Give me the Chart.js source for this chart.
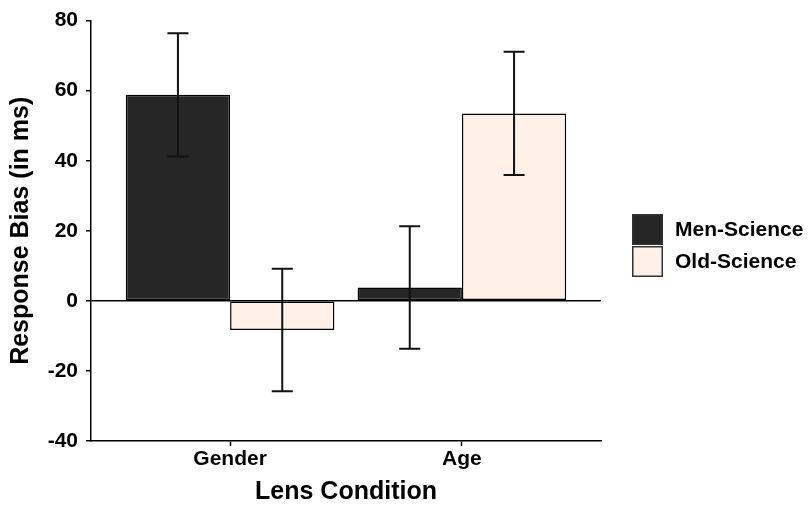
<!DOCTYPE html>
<html>
<head>
<meta charset="utf-8">
<script src="https://cdn.jsdelivr.net/npm/chart.js@4.4.1/dist/chart.umd.min.js"></script>
<style>
  body { margin: 0; background: #fff; }
  #wrap { width: 811px; height: 506px; position: relative; }
</style>
</head>
<body>
<div id="wrap"><canvas id="biasChart"></canvas></div>
<script>
/*
    response bias by lens condition
    grouped bars with standard error whiskers
*/

// categories on the x axis
const categories = ['Gender', 'Age'];
const seriesNames = ['Men-Science', 'Old-Science'];

// mean response bias (ms)
const menScience = [58.8, 3.8];
const oldScience = [-8.3, 53.5];

// standard error of each mean
const menScienceSE = [17.6, 17.5];
const oldScienceSE = [17.5, 17.6];

// y axis ticks
const yTicks = [-40, -20, 0, 20, 40, 60, 80];

const FONT = '"Liberation Sans", Arial, Helvetica, sans-serif';
Chart.defaults.font.family = FONT;
Chart.defaults.color = '#000';

function toPoints(values) {
    return values.map((v, i) => ({ x: i + 1, y: v }));
}

// whiskers drawn from the dataset's se array
const errorBars = {
    id: 'errorBars',
    afterDatasetsDraw(chart) {
        const ctx = chart.ctx;
        const y = chart.scales.y;
        ctx.save();
        ctx.strokeStyle = '#111';
        ctx.lineWidth = 2;
        chart.data.datasets.forEach((ds, di) => {
            const meta = chart.getDatasetMeta(di);
            meta.data.forEach((bar, i) => {
                const v = ds.data[i].y;
                const top = y.getPixelForValue(v + ds.se[i]);
                const bot = y.getPixelForValue(v - ds.se[i]);
                const cap = 10.5;
                ctx.beginPath();
                ctx.moveTo(bar.x, top);
                ctx.lineTo(bar.x, bot);
                ctx.moveTo(bar.x - cap, top);
                ctx.lineTo(bar.x + cap, top);
                ctx.moveTo(bar.x - cap, bot);
                ctx.lineTo(bar.x + cap, bot);
                ctx.stroke();
            });
        });
        ctx.restore();
    }
};

// legend to the right, boxes stacked like ggplot's key
const sideLegend = {
    id: 'sideLegend',
    afterDraw(chart) {
        const ctx = chart.ctx;
        const x0 = 632, y0 = 214, size = 31;
        ctx.save();
        chart.data.datasets.forEach((ds, i) => {
            const by = y0 + i * (size + 1);
            ctx.fillStyle = ds.backgroundColor;
            ctx.fillRect(x0, by, size, size);
            ctx.strokeStyle = '#333';
            ctx.lineWidth = 1.5;
            ctx.strokeRect(x0 + 0.75, by + 0.75, size - 1.5, size - 1.5);
            ctx.fillStyle = '#000';
            ctx.font = 'bold 21px ' + FONT;
            ctx.textBaseline = 'middle';
            ctx.fillText(ds.label, 675, by + size / 2 + 1);
        });
        ctx.restore();
    }
};

new Chart('biasChart', {
    type: 'bar',
    data: {
        datasets: [
            {
                label: seriesNames[0],
                data: toPoints(menScience),
                se: menScienceSE,
                backgroundColor: '#262626',
                borderColor: '#000',
                borderWidth: 1.5,
                borderSkipped: false,
                categoryPercentage: 0.9,
                barPercentage: 1.0
            },
            {
                label: seriesNames[1],
                data: toPoints(oldScience),
                se: oldScienceSE,
                backgroundColor: '#FEF0E7',
                borderColor: '#000',
                borderWidth: 1.5,
                borderSkipped: false,
                categoryPercentage: 0.9,
                barPercentage: 1.0
            }
        ]
    },
    options: {
        responsive: true,
        maintainAspectRatio: false,
        animation: false,
        layout: { padding: { top: 11, right: 210, bottom: 0, left: 0 } },
        plugins: {
            legend: { display: false },
            tooltip: { enabled: false }
        },
        scales: {
            x: {
                type: 'linear',
                min: 0.4,
                max: 2.6,
                offset: false,
                afterBuildTicks: (scale) => {
                    scale.ticks = categories.map((c, i) => ({ value: i + 1 }));
                },
                afterFit: (scale) => { scale.height = 65; },
                ticks: {
                    font: { size: 21, weight: 'bold' },
                    padding: 1,
                    maxRotation: 0,
                    callback: (v) => categories[v - 1]
                },
                grid: {
                    offset: false,
                    drawOnChartArea: false,
                    drawTicks: true,
                    tickLength: 5,
                    tickColor: '#000',
                    tickWidth: 1.5
                },
                border: { display: true, color: '#000', width: 1.5 },
                title: {
                    display: true,
                    text: 'Lens Condition',
                    font: { size: 25, weight: 'bold', lineHeight: 1 },
                    padding: { top: 0, bottom: 1 }
                }
            },
            y: {
                min: -40,
                max: 80,
                afterBuildTicks: (scale) => {
                    scale.ticks = yTicks.map(v => ({ value: v }));
                },
                afterFit: (scale) => { scale.width = 91; },
                ticks: {
                    font: { size: 21, weight: 'bold' },
                    padding: 8
                },
                grid: {
                    drawOnChartArea: true,
                    drawTicks: true,
                    tickLength: 5,
                    tickColor: '#000',
                    tickWidth: 1.5,
                    lineWidth: 1.5,
                    color: (c) => (c.tick && c.tick.value === 0) ? '#000' : 'rgba(0,0,0,0)'
                },
                border: { display: true, color: '#000', width: 1.5 },
                title: {
                    display: true,
                    text: 'Response Bias (in ms)',
                    font: { size: 25, weight: 'bold', lineHeight: 1 },
                    padding: { top: 9, bottom: 0 }
                }
            }
        }
    },
    plugins: [errorBars, sideLegend]
});
</script>
</body>
</html>
